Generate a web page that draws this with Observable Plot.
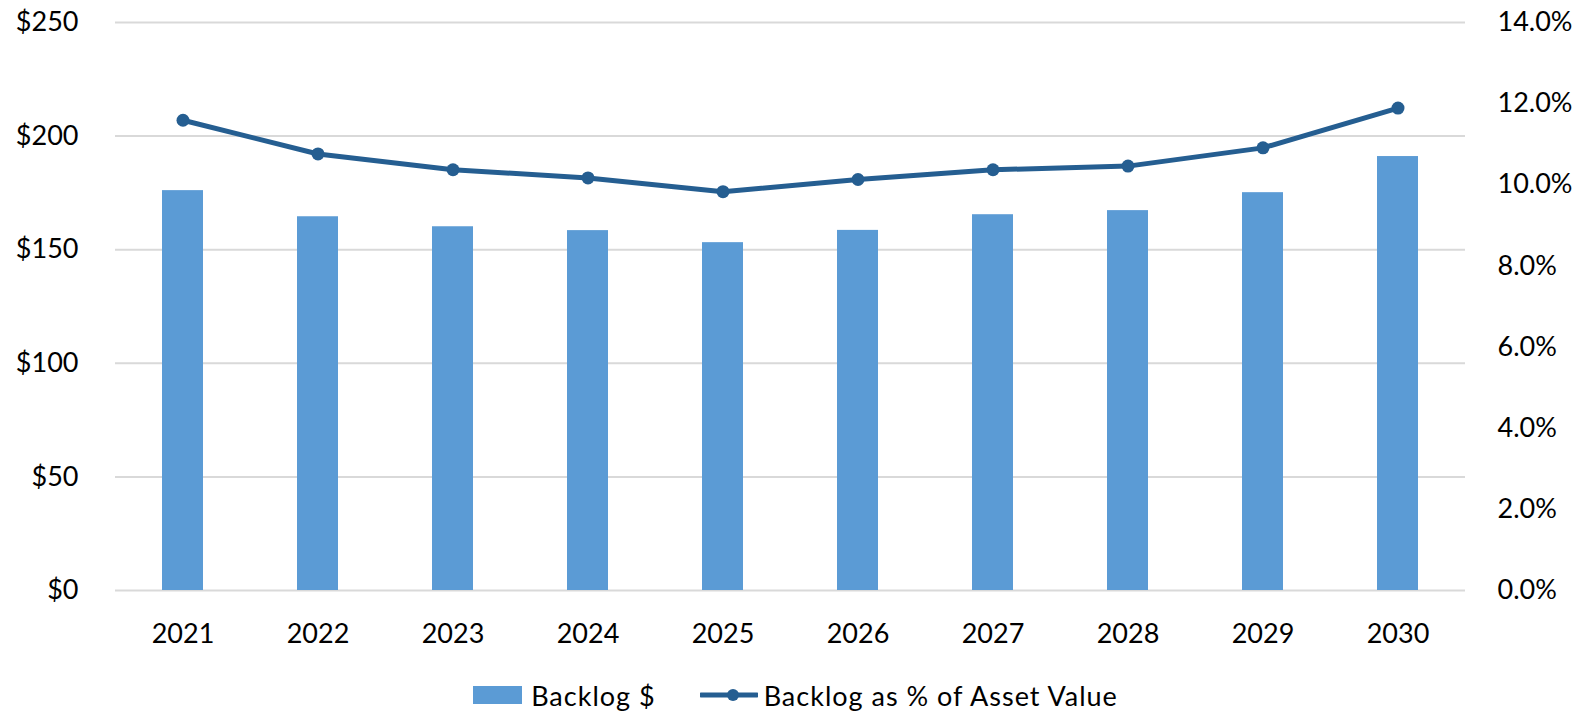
<!DOCTYPE html>
<html>
<head>
<meta charset="utf-8">
<script src="https://cdn.jsdelivr.net/npm/d3@7"></script>
<script src="https://cdn.jsdelivr.net/npm/@observablehq/plot@0.6"></script>
<style>
  html, body { margin: 0; padding: 0; background: #fff; }
  body { width: 1585px; height: 711px; overflow: hidden; font-family: Lato, "Open Sans", sans-serif; }
  #legend { display: flex; justify-content: center; align-items: center; height: 30px; margin-top: 15px; font-size: 27px; letter-spacing: 1px; color: #000; padding-left: 6px; }
  #legend .item { display: flex; align-items: center; }
  #legend .sw { width: 49px; height: 18px; background: #5B9BD5; margin-right: 9px; }
</style>
</head>
<body>
<div id="chart"></div>
<div id="legend">
  <div class="item"><div class="sw"></div><span>Backlog $</span></div>
  <div class="item" style="margin-left:44px"><svg width="58" height="18" style="margin-right:6px"><line x1="1" x2="57" y1="9" y2="9" stroke="#255E91" stroke-width="5" stroke-linecap="round"/><circle cx="33" cy="9" r="6" fill="#255E91"/></svg><span>Backlog as % of Asset Value</span></div>
</div>
<script>
const years = ["2021","2022","2023","2024","2025","2026","2027","2028","2029","2030"];
const backlog = [176.0, 164.5, 160.1, 158.4, 153.1, 158.5, 165.4, 167.2, 175.1, 191.0];
const backlogPct = [11.59, 10.76, 10.37, 10.17, 9.83, 10.13, 10.37, 10.46, 10.91, 11.89];
const dollarTicks = [0, 50, 100, 150, 200, 250];
const pctTicks = [0, 2, 4, 6, 8, 10, 12, 14];
const dollarMax = 250, pctMax = 14;

const data = years.map((y, i) => ({year: y, backlog: backlog[i], pct: backlogPct[i], pctY: backlogPct[i] * dollarMax / pctMax}));

const chart = Plot.plot({
  width: 1585,
  height: 665,
  marginLeft: 115,
  marginRight: 120,
  marginTop: 22,
  marginBottom: 75,
  style: {fontFamily: "Lato, 'Open Sans', sans-serif", fontSize: "27px", color: "#000", background: "#fff"},
  x: {type: "band", domain: years, paddingInner: 0.694, paddingOuter: 0.347, label: null},
  y: {domain: [0, dollarMax], label: null},
  marks: [
    Plot.ruleY(dollarTicks, {stroke: "#D9D9D9", strokeWidth: 2}),
    Plot.barY(data, {x: "year", y: "backlog", fill: "#5B9BD5"}),
    Plot.line(data, {x: "year", y: "pctY", stroke: "#255E91", strokeWidth: 5, strokeLinejoin: "round"}),
    Plot.dot(data, {x: "year", y: "pctY", r: 6.5, fill: "#255E91", stroke: "none"}),
    Plot.axisY({anchor: "left", ticks: dollarTicks, tickSize: 0, tickPadding: 37, tickFormat: d => "$" + d, label: null}),
    Plot.axisY({anchor: "right", ticks: pctTicks.map(p => p * dollarMax / pctMax), tickSize: 0, tickPadding: 32, tickFormat: d => (d * pctMax / dollarMax).toFixed(1) + "%", label: null}),
    Plot.axisX({tickSize: 0, tickPadding: 33, label: null})
  ]
});
document.getElementById("chart").append(chart);
</script>
</body>
</html>
